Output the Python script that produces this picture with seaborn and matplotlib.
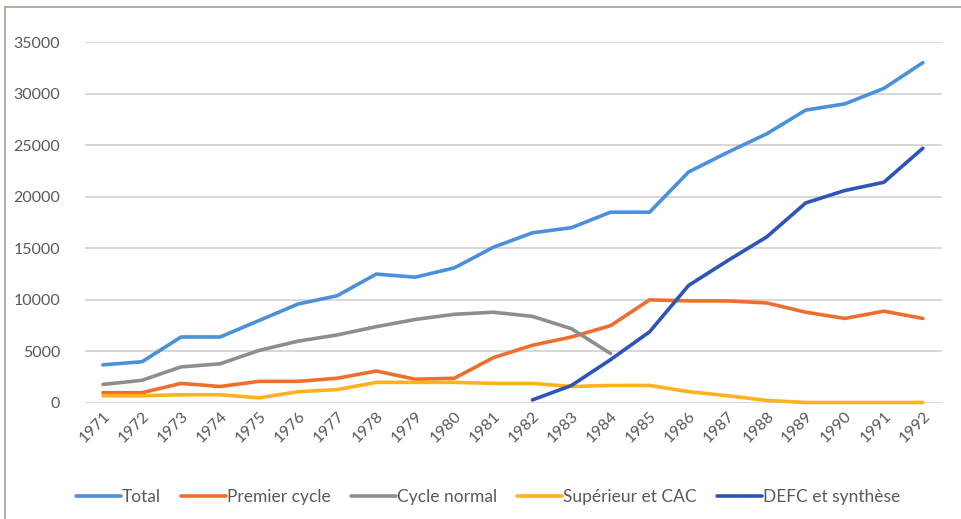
import numpy as np
import pandas as pd
import matplotlib
matplotlib.use('Agg')
import matplotlib.pyplot as plt
import seaborn as sns
from matplotlib.patches import Rectangle

years = list(range(1971, 1993))
total = [3700, 4000, 6400, 6400, 8000, 9600, 10400, 12500, 12200, 13100, 15100,
         16500, 17000, 18500, 18500, 22400, 24300, 26100, 28400, 29000, 30500, 33000]
premier_cycle = [1000, 1000, 1900, 1600, 2100, 2100, 2400, 3100, 2300, 2400, 4400,
                 5600, 6400, 7500, 10000, 9900, 9900, 9700, 8800, 8200, 8900, 8200]
cycle_normal_years = list(range(1971, 1985))
cycle_normal = [1800, 2200, 3500, 3800, 5100, 6000, 6600, 7400, 8100, 8600, 8800,
                8400, 7200, 4800]
superieur = [700, 700, 800, 800, 500, 1100, 1300, 2000, 2000, 2000, 1900,
             1900, 1600, 1700, 1700, 1100, 700, 250, 50, 50, 50, 50]
defc_years = list(range(1982, 1993))
defc = [300, 1700, 4200, 6900, 11400, 13800, 16100, 19400, 20600, 21400, 24700]

series_names = ['Total', 'Premier cycle', 'Cycle normal', 'Supérieur et CAC', 'DEFC et synthèse']
colors = ['#4A90DA', '#EE6F2D', '#8E8E8E', '#FFB21E', '#2D55B8']

frames = [
    pd.DataFrame({'annee': years, 'effectif': total, 'serie': 'Total'}),
    pd.DataFrame({'annee': years, 'effectif': premier_cycle, 'serie': 'Premier cycle'}),
    pd.DataFrame({'annee': cycle_normal_years, 'effectif': cycle_normal, 'serie': 'Cycle normal'}),
    pd.DataFrame({'annee': years, 'effectif': superieur, 'serie': 'Supérieur et CAC'}),
    pd.DataFrame({'annee': defc_years, 'effectif': defc, 'serie': 'DEFC et synthèse'}),
]
df = pd.concat(frames, ignore_index=True)

sns.set_style('white')
plt.rcParams['font.family'] = ['Lato', 'DejaVu Sans']

fig = plt.figure(figsize=(9.62, 5.19), dpi=100)
ax = fig.add_axes([85 / 962, 1 - 403 / 519, (942 - 85) / 962, (403 - 42) / 519])

sns.lineplot(data=df, x='annee', y='effectif', hue='serie', hue_order=series_names,
             palette=colors, linewidth=2.6, ax=ax, legend=False, clip_on=False)

ax.set_xlim(1970.54, 1992.49)
ax.set_ylim(0, 35000)
ax.set_yticks(range(0, 35001, 5000))
ax.set_xticks(years)
ax.set_xticklabels([str(y) for y in years], rotation=45, ha='right',
                   rotation_mode='anchor', fontsize=11.5, color='#595959')
ax.tick_params(axis='y', labelsize=11.5, labelcolor='#595959', pad=18, length=0)
ax.tick_params(axis='x', pad=4, length=0)
ax.yaxis.grid(True, color='#D4D4D4', linewidth=1.3)
ax.set_axisbelow(True)
for s in ax.spines.values():
    s.set_visible(False)
ax.set_xlabel('')
ax.set_ylabel('')

handles = [plt.Line2D([], [], color=c, linewidth=2.6) for c in colors]
fig.legend(handles, series_names, loc='center', bbox_to_anchor=(488 / 962, 1 - 497 / 519),
           ncol=5, frameon=False, fontsize=12.5, handlelength=2.6, handletextpad=0.05,
           columnspacing=1.15, labelcolor='#595959')

fig.patches.append(Rectangle((5 / 962, -0.2), 1.2, 1.2 - 7 / 519, transform=fig.transFigure,
                             fill=False, edgecolor='#A89F91', linewidth=1.2))

fig.savefig('out.png', dpi=100, facecolor='white')
